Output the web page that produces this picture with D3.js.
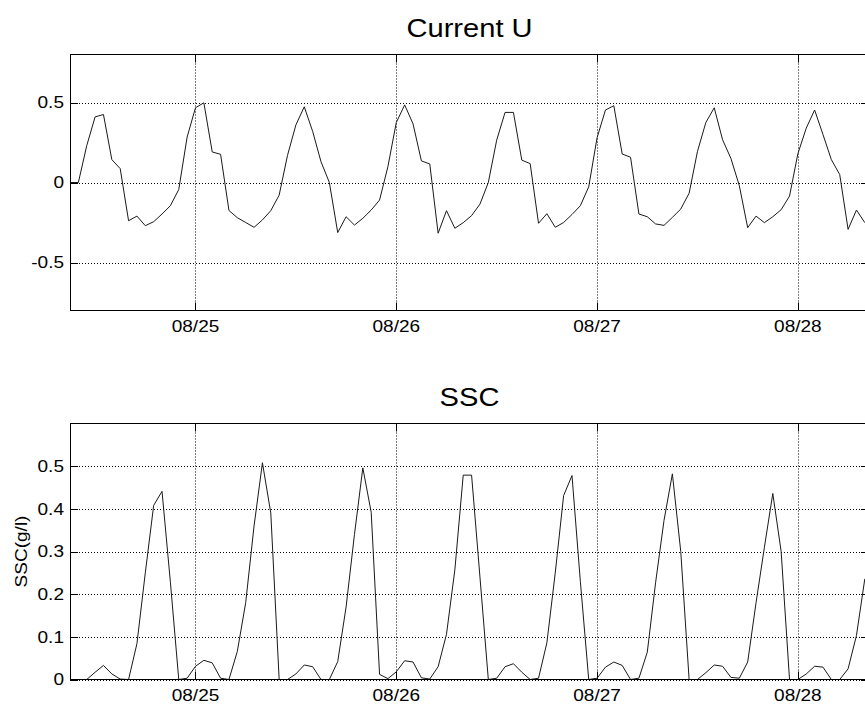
<!DOCTYPE html>
<html>
<head>
<meta charset="utf-8">
<script src="https://cdn.jsdelivr.net/npm/d3@7"></script>
<style>
  html, body { margin: 0; padding: 0; background: #fff; }
  svg { display: block; }
  text { font-family: "Liberation Sans", Arial, Helvetica, sans-serif; fill: #000; }
</style>
</head>
<body>
<svg id="fig" width="865" height="708"></svg>
<script>
// Hourly record starting 08/24 09:00
const startTime = new Date(2008, 7, 24, 9, 0, 0);
const spanHours = 95.5;

// Depth-averaged current, U component (m/s)
const currentU = [
  0, 0, 0.23, 0.41, 0.425, 0.143, 0.087, -0.239, -0.21, -0.27,
  -0.245, -0.197, -0.145, -0.044, 0.284, 0.467, 0.498, 0.191, 0.176, -0.175,
  -0.22, -0.25, -0.28, -0.234, -0.176, -0.079, 0.17, 0.36, 0.473, 0.32,
  0.13, 0.0, -0.313, -0.214, -0.266, -0.224, -0.172, -0.11, 0.1, 0.375,
  0.485, 0.367, 0.135, 0.116, -0.317, -0.176, -0.286, -0.251, -0.207, -0.135,
  0.0, 0.265, 0.438, 0.438, 0.14, 0.118, -0.255, -0.195, -0.28, -0.25,
  -0.2, -0.145, -0.027, 0.28, 0.453, 0.48, 0.178, 0.158, -0.197, -0.214,
  -0.259, -0.268, -0.218, -0.166, -0.067, 0.195, 0.375, 0.467, 0.267, 0.15,
  -0.02, -0.282, -0.21, -0.251, -0.214, -0.17, -0.085, 0.18, 0.34, 0.453,
  0.3, 0.143, 0.05, -0.293, -0.172, -0.251
];

// Suspended sediment concentration (g/l)
const ssc = [
  0, 0, 0, 0.017, 0.033, 0.013, 0.001, 0, 0.084, 0.25,
  0.408, 0.441, 0.228, 0, 0.003, 0.031, 0.045, 0.039, 0.003, 0,
  0.066, 0.18, 0.36, 0.508, 0.39, 0, 0, 0.013, 0.034, 0.03,
  0, 0, 0.042, 0.17, 0.34, 0.496, 0.392, 0.012, 0.002, 0.018,
  0.044, 0.041, 0.004, 0.001, 0.03, 0.106, 0.257, 0.479, 0.479, 0.24,
  0, 0.003, 0.03, 0.037, 0.017, 0, 0.003, 0.086, 0.25, 0.431,
  0.478, 0.23, 0, 0.003, 0.029, 0.041, 0.033, 0, 0.003, 0.064,
  0.228, 0.373, 0.482, 0.3, 0, 0, 0.016, 0.034, 0.031, 0.005,
  0.003, 0.041, 0.18, 0.31, 0.436, 0.3, 0, 0, 0.013, 0.031,
  0.029, 0, 0, 0.025, 0.103, 0.236
];

const uTicks = [-0.5, 0, 0.5];
const uTickLabels = ["-0.5", "0", "0.5"];
const sscTicks = [0, 0.1, 0.2, 0.3, 0.4, 0.5];
const sscTickLabels = ["0", "0.1", "0.2", "0.3", "0.4", "0.5"];

const titles = ["Current U", "SSC"];
const sscYLabel = "SSC(g/l)";

const svg = d3.select("#fig");
const HOUR = 3600 * 1000;
const times = currentU.map((_, i) => new Date(startTime.getTime() + i * HOUR));
const endTime = new Date(startTime.getTime() + spanHours * HOUR);

const left = 70, right = 869;
const x = d3.scaleTime().domain([startTime, endTime]).range([left, right]);
const dayTicks = d3.timeDay.range(d3.timeDay.ceil(startTime), endTime);
const fmt = d3.timeFormat("%m/%d");

const tickFont = 17, titleFont = 26, stretch = 1.12, tickLen = 8;

function panel(cfg) {
  const { top, bottom, domain, values, ticks, tickLabels, title, ylabel } = cfg;
  const y = d3.scaleLinear().domain(domain).range([bottom, top]);
  const g = svg.append("g");

  // grid (dotted)
  g.selectAll("line.hgrid").data(ticks).join("line")
    .attr("x1", left).attr("x2", right)
    .attr("y1", d => Math.round(y(d)) + 0.5).attr("y2", d => Math.round(y(d)) + 0.5)
    .attr("stroke", "#000").attr("stroke-width", 1).attr("stroke-dasharray", "1,2");
  g.selectAll("line.vgrid").data(dayTicks).join("line")
    .attr("x1", d => Math.round(x(d)) + 0.5).attr("x2", d => Math.round(x(d)) + 0.5)
    .attr("y1", top).attr("y2", bottom)
    .attr("stroke", "#000").attr("stroke-width", 1).attr("stroke-dasharray", "1,2");

  // tick marks, inward on all four sides
  ticks.forEach(t => {
    const yy = Math.round(y(t)) + 0.5;
    g.append("line").attr("x1", left).attr("x2", left + tickLen).attr("y1", yy).attr("y2", yy).attr("stroke", "#000");
    g.append("line").attr("x1", right - tickLen).attr("x2", right).attr("y1", yy).attr("y2", yy).attr("stroke", "#000");
  });
  dayTicks.forEach(t => {
    const xx = Math.round(x(t)) + 0.5;
    g.append("line").attr("x1", xx).attr("x2", xx).attr("y1", bottom - tickLen).attr("y2", bottom).attr("stroke", "#000");
    g.append("line").attr("x1", xx).attr("x2", xx).attr("y1", top).attr("y2", top + tickLen).attr("stroke", "#000");
  });

  // data line
  const line = d3.line().x((d, i) => x(times[i])).y(d => y(d));
  g.append("path").datum(values)
    .attr("fill", "none").attr("stroke", "#1a1a1a").attr("stroke-width", 1)
    .attr("stroke-linejoin", "round")
    .attr("d", line);

  // box
  g.append("rect").attr("x", left + 0.5).attr("y", top).attr("width", right - left).attr("height", bottom - top)
    .attr("fill", "none").attr("stroke", "#000").attr("stroke-width", 1);

  // y tick labels
  ticks.forEach((t, i) => {
    g.append("text")
      .attr("transform", `translate(64,${y(t)}) scale(${stretch},1)`)
      .attr("text-anchor", "end").attr("dy", "0.35em")
      .attr("font-size", tickFont).text(tickLabels[i]);
  });
  // x tick labels
  dayTicks.forEach(t => {
    g.append("text")
      .attr("transform", `translate(${x(t)},${bottom + 21.5}) scale(${stretch},1)`)
      .attr("text-anchor", "middle")
      .attr("font-size", tickFont).text(fmt(t));
  });
  // title
  g.append("text")
    .attr("transform", `translate(${(left + right) / 2},${top - 17.5}) scale(${stretch},1)`)
    .attr("text-anchor", "middle").attr("font-size", titleFont).text(title);
  if (ylabel) {
    g.append("text")
      .attr("transform", `translate(27,${(top + bottom) / 2}) rotate(-90) scale(${stretch},1)`)
      .attr("text-anchor", "middle").attr("font-size", tickFont).text(ylabel);
  }
}

panel({ top: 54.5, bottom: 310.5, domain: [-0.8, 0.8], values: currentU,
        ticks: uTicks, tickLabels: uTickLabels, title: titles[0] });
panel({ top: 423.5, bottom: 679.5, domain: [0, 0.6], values: ssc,
        ticks: sscTicks, tickLabels: sscTickLabels, title: titles[1], ylabel: sscYLabel });
</script>
</body>
</html>
